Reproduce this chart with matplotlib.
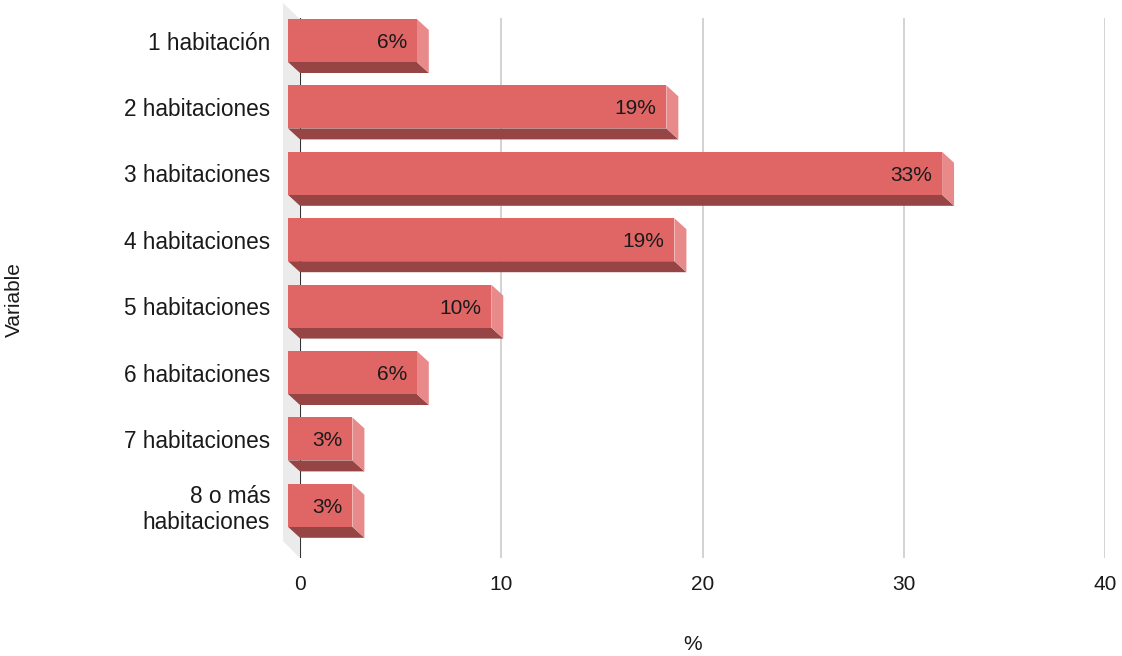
import matplotlib.pyplot as plt
from matplotlib.patches import Polygon

plt.rcParams['font.family'] = ['Liberation Sans', 'DejaVu Sans']

categories = ['1 habitación', '2 habitaciones', '3 habitaciones', '4 habitaciones',
              '5 habitaciones', '6 habitaciones', '7 habitaciones', '8 o más\nhabitaciones']
values = [6.4, 18.8, 32.5, 19.2, 10.1, 6.4, 3.2, 3.2]
labels = ['6%', '19%', '33%', '19%', '10%', '6%', '3%', '3%']
xticks = [0, 10, 20, 30, 40]

front_col = '#e06666'
side_col = '#e98a8a'
bottom_col = '#964444'
text_col = '#1a1a1a'

W, H = 1122, 656
fig = plt.figure(figsize=(W / 100, H / 100), dpi=100)
# plot area in pixels: x 300..1105, y 18..558
ax = fig.add_axes([300 / W, 1 - 558 / H, 805 / W, 540 / H])

row_px = 66.4
px_x = 805 / 40.0
first_row = 40.5
ax.set_xlim(0, 40)
ax.set_ylim((558 - first_row) / row_px, (18 - first_row) / row_px)

# depth offset of the 3d effect (front face shifted left and up)
dx = -12 / px_x
dy = 11 / row_px
half = 21.5 / row_px

for s in ax.spines.values():
    s.set_visible(False)

# back wall on the left
wall = Polygon([(-17 / px_x, (3 - first_row) / row_px), (0, (19 - first_row) / row_px),
                (0, (558 - first_row) / row_px), (-17 / px_x, (541 - first_row) / row_px)],
               closed=True, facecolor='#ebebeb', edgecolor='none', clip_on=False, zorder=0)
ax.add_patch(wall)

for x in xticks[1:]:
    ax.axvline(x, color='#cccccc', lw=1.2, zorder=1)
ax.axvline(0, color='#333333', lw=1.5, zorder=1)

for i, v in enumerate(values):
    y0 = i - half
    y1 = i + half
    fx0 = dx
    fx1 = v + dx
    bottom = Polygon([(fx0, y1), (fx1, y1), (v, y1 + dy), (0, y1 + dy)],
                     closed=True, facecolor=bottom_col, edgecolor='none', clip_on=False, zorder=2)
    side = Polygon([(fx1, y0), (v, y0 + dy), (v, y1 + dy), (fx1, y1)],
                   closed=True, facecolor=side_col, edgecolor='none', clip_on=False, zorder=2)
    front = Polygon([(fx0, y0), (fx1, y0), (fx1, y1), (fx0, y1)],
                    closed=True, facecolor=front_col, edgecolor='none', clip_on=False, zorder=3)
    ax.add_patch(bottom)
    ax.add_patch(side)
    ax.add_patch(front)
    ax.annotate(labels[i], (fx1, i), xytext=(-7, -1.5), textcoords='offset points',
                ha='right', va='center', fontsize=15, color=text_col, zorder=4)

ax.set_yticks(range(len(categories)))
ax.set_yticklabels(categories, fontsize=16.3, color=text_col, multialignment='right')
ax.set_xticks(xticks)
ax.set_xticklabels([str(t) for t in xticks], fontsize=15, color=text_col)
ax.tick_params(axis='y', length=0, pad=21.5)
ax.tick_params(axis='x', length=0, pad=12)

fig.text(693 / W, 1 - 644 / H, '%', ha='center', va='center', fontsize=15, color=text_col)
fig.text(14 / W, 1 - 300 / H, 'Variable', ha='center', va='center', rotation=90,
         fontsize=15, color=text_col)

fig.savefig('out.png', dpi=100)
